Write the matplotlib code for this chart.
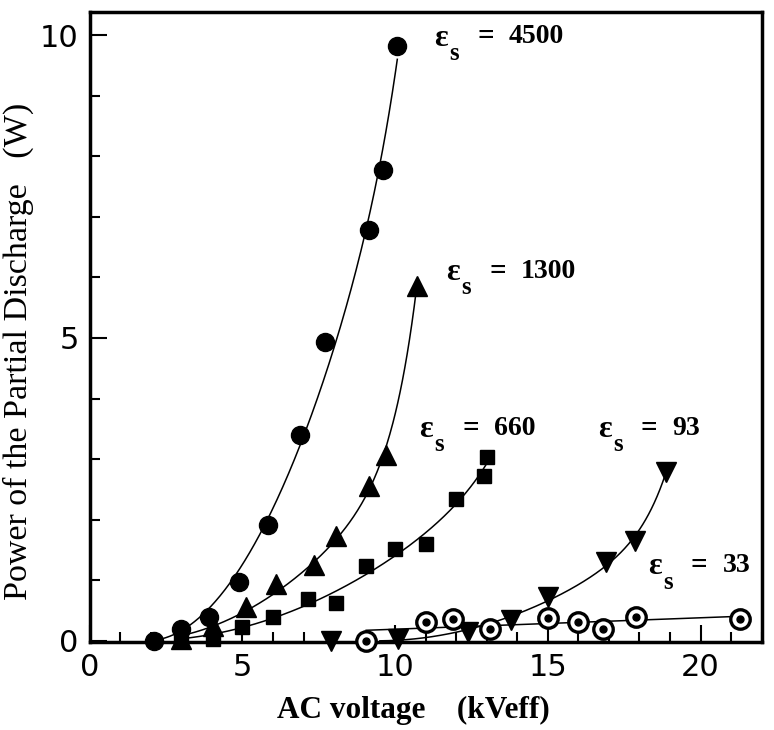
import numpy as np
import matplotlib
matplotlib.use("Agg")
import matplotlib.pyplot as plt
from matplotlib.ticker import MultipleLocator

# ---- data ----
x_4500 = [2.1, 3.0, 3.9, 4.9, 5.85, 6.9, 7.7, 9.15, 9.6, 10.07]
y_4500 = [0.0, 0.2, 0.4, 0.97, 1.91, 3.39, 4.94, 6.79, 7.78, 9.82]

x_1300 = [3.0, 4.05, 5.1, 6.1, 7.35, 8.07, 9.15, 9.7, 10.7]
y_1300 = [0.03, 0.25, 0.56, 0.94, 1.25, 1.73, 2.55, 3.06, 5.85]

x_660 = [3.0, 4.05, 5.0, 6.0, 7.15, 8.07, 9.05, 10.0, 11.0, 12.0, 12.9, 13.0]
y_660 = [0.02, 0.03, 0.23, 0.4, 0.69, 0.63, 1.24, 1.52, 1.6, 2.34, 2.72, 3.03]

x_93 = [7.9, 10.1, 12.4, 13.8, 15.0, 16.9, 17.84, 18.86]
y_93 = [0.0, 0.03, 0.15, 0.35, 0.72, 1.30, 1.65, 2.78]

x_33 = [9.05, 11.0, 11.9, 13.1, 15.0, 16.0, 16.8, 17.9, 21.3]
y_33 = [0.0, 0.31, 0.36, 0.2, 0.38, 0.31, 0.2, 0.40, 0.36]

labels = ["4500", "1300", "660", "93", "33"]
label_x = [11.27, 11.67, 10.78, 16.63, 18.27]
label_y = [9.95, 6.08, 3.49, 3.49, 1.22]

plt.rcParams['font.family'] = ['Liberation Serif', 'DejaVu Serif']

fig = plt.figure(figsize=(7.74, 7.30), dpi=100)
ax = fig.add_axes([0.116, 0.1205, 0.868, 0.863])


def fit_curve(xs, ys, x_start, x_end):
    """Least-squares fit y = a*t^2 + b*t^k, t = max(x - x0, 0)."""
    xs = np.asarray(xs, float)
    ys = np.asarray(ys, float)
    best = None
    for x0 in np.linspace(min(xs) - 1.5, min(xs) + 1.5, 61):
        t = np.clip(xs - x0, 0, None)
        for k in np.linspace(2.5, 12, 39):
            A = np.vstack([t ** 2, t ** k]).T
            coef, *_ = np.linalg.lstsq(A, ys, rcond=None)
            if np.any(coef < 0):
                continue
            err = np.sum((A @ coef - ys) ** 2)
            if best is None or err < best[0]:
                best = (err, x0, k, coef)
    _, x0, k, coef = best
    xx = np.linspace(x_start, x_end, 300)
    t = np.clip(xx - x0, 0, None)
    return xx, coef[0] * t ** 2 + coef[1] * t ** k


lw = 1.1
for xs, ys, x0 in [(x_4500, y_4500, 2.0), (x_1300, y_1300, 3.0),
                   (x_660, y_660, 3.0), (x_93, y_93, 9.5)]:
    xx, yy = fit_curve(xs, ys, x0, max(xs))
    ax.plot(xx, yy, color='black', lw=lw, zorder=2)
c33 = np.polyfit(x_33, y_33, 1)
xx = np.linspace(min(x_33), max(x_33), 50)
ax.plot(xx, np.polyval(c33, xx), color='black', lw=lw, zorder=2)

ax.plot(x_4500, y_4500, 'o', color='black', ms=13, zorder=3, clip_on=False)
ax.plot(x_1300, y_1300, '^', color='black', ms=14, zorder=3, clip_on=False)
ax.plot(x_660, y_660, 's', color='black', ms=10, zorder=3, clip_on=False)
ax.plot(x_93, y_93, 'v', color='black', ms=14, zorder=3, clip_on=False)
ax.plot(x_33, y_33, 'o', mfc='white', mec='black', mew=2.4, ms=14, zorder=3, clip_on=False)
ax.plot(x_33, y_33, 'o', color='black', ms=5, zorder=4, clip_on=False)

# annotations: epsilon, subscript s, "=", value (offsets in points)
for lab, lx, ly in zip(labels, label_x, label_y):
    ax.annotate('ε', (lx, ly), fontsize=23, fontweight='bold', va='center', ha='left')
    ax.annotate('s', (lx, ly), xytext=(11, -11), textcoords='offset points',
                fontsize=18, fontweight='bold', va='center', ha='left')
    ax.annotate('=', (lx, ly), xytext=(31, 1), textcoords='offset points',
                fontsize=21, fontweight='bold', va='center', ha='left')
    ax.annotate(lab, (lx, ly), xytext=(54, 1), textcoords='offset points',
                fontsize=20, fontweight='bold', va='center', ha='left')

ax.set_xlim(0, 22)
ax.set_ylim(-0.02, 10.38)
ax.xaxis.set_major_locator(MultipleLocator(5))
ax.xaxis.set_minor_locator(MultipleLocator(1))
ax.yaxis.set_major_locator(MultipleLocator(5))
ax.yaxis.set_minor_locator(MultipleLocator(1))
ax.tick_params(which='both', direction='in', top=False, right=False, width=1.5)
ax.tick_params(which='major', length=12, labelsize=22, pad=8)
ax.tick_params(which='minor', length=7)
for lbl in ax.get_xticklabels() + ax.get_yticklabels():
    lbl.set_family(['DejaVu Sans'])
for s in ax.spines.values():
    s.set_linewidth(2.5)

ax.set_xlabel('AC voltage    (kVeff)', fontsize=22.5, fontweight='bold')
ax.set_ylabel('Power of the Partial Discharge   (W)', fontsize=24.5)
ax.xaxis.set_label_coords(0.482, -0.086)
ax.yaxis.set_label_coords(-0.083, 0.462)

fig.savefig('out.png', dpi=100)
